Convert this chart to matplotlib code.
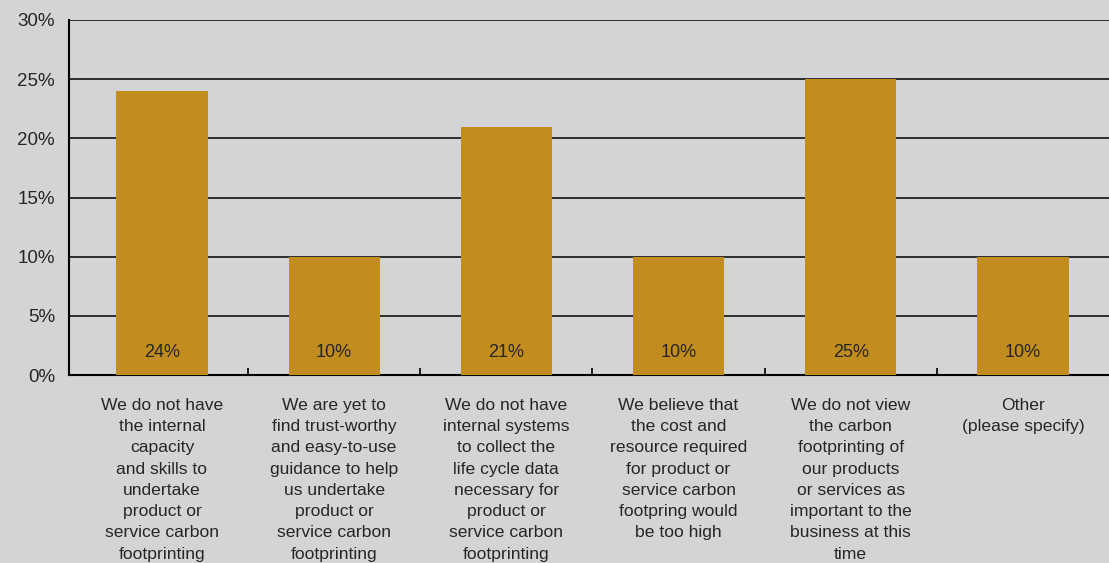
import numpy as np
import matplotlib.pyplot as plt
from matplotlib.ticker import FixedLocator

plt.rcParams['font.family'] = ['Liberation Sans', 'DejaVu Sans']

reasons = [
    'We do not have\nthe internal\ncapacity\nand skills to\nundertake\nproduct or\nservice carbon\nfootprinting',
    'We are yet to\nfind trust-worthy\nand easy-to-use\nguidance to help\nus undertake\nproduct or\nservice carbon\nfootprinting',
    'We do not have\ninternal systems\nto collect the\nlife cycle data\nnecessary for\nproduct or\nservice carbon\nfootprinting',
    'We believe that\nthe cost and\nresource required\nfor product or\nservice carbon\nfootpring would\nbe too high',
    'We do not view\nthe carbon\nfootprinting of\nour products\nor services as\nimportant to the\nbusiness at this\ntime',
    'Other\n(please specify)',
]
share = [24, 10, 21, 10, 25, 10]
yticks = [0, 5, 10, 15, 20, 25, 30]

bg = '#d3d4d6'
gold = '#c28c1e'
ink = '#262626'

fig = plt.figure(figsize=(11.09, 5.63), dpi=100, facecolor=bg)
ax = fig.add_axes([69 / 1109, (563 - 375) / 563, 1040 / 1109, 355 / 563])
ax.set_facecolor(bg)

x = np.arange(len(share))
ax.set_axisbelow(True)
ax.grid(axis='y', color='black', linewidth=1.1)
ax.bar(x, share, width=0.53, color=gold, zorder=3)

# percentage printed near the foot of each bar
for xi, v in zip(x, share):
    ax.text(xi, 1.9, f'{v}%', ha='center', va='center', fontsize=13, color=ink, zorder=4)

ax.set_ylim(0, 30)
ax.set_xlim(-0.54, 5.5)
ax.set_yticks(yticks)
ax.set_yticklabels([f'{t}%' for t in yticks])
ax.tick_params(axis='y', length=0, pad=10, labelsize=13.5, labelcolor=ink)

ax.set_xticks(x)
ax.set_xticklabels(reasons, fontsize=12.6, color=ink, linespacing=1.52, va='top')
ax.tick_params(axis='x', which='major', length=0, pad=16.5)
ax.xaxis.set_minor_locator(FixedLocator(x[:-1] + 0.5))
ax.tick_params(axis='x', which='minor', direction='in', length=5, width=1.2, color='black')

for side in ['top', 'right']:
    ax.spines[side].set_visible(False)
for side in ['left', 'bottom']:
    ax.spines[side].set_color('black')
    ax.spines[side].set_linewidth(1.5)

fig.savefig('out.png', dpi=100, facecolor=bg)
